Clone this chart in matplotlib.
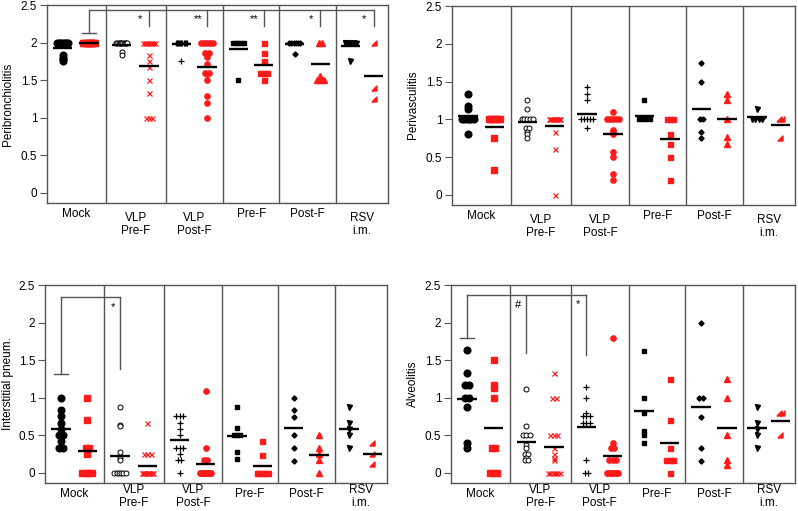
import numpy as np
import matplotlib
matplotlib.use("Agg")
import matplotlib.pyplot as plt
from matplotlib.transforms import blended_transform_factory

plt.rcParams['font.family'] = ['Liberation Sans', 'DejaVu Sans']

# -----------------------------------------------------------
# data (scores per mouse)
# -----------------------------------------------------------
groups = ["Mock", "VLP\nPre-F", "VLP\nPost-F", "Pre-F", "Post-F", "RSV\ni.m."]

# Peribronchiolitis
peri_b_black = [
    [2] * 8 + [1.83, 1.8, 1.78, 1.75],
    [2] * 10 + [1.88, 1.83],
    [2] * 11 + [1.75],
    [2] * 5 + [1.5],
    [2] * 6 + [1.85],
    [2] * 5 + [1.76],
]
peri_b_red = [
    [2] * 12,
    [2] * 8 + [1.83, 1.75, 1.67, 1.5, 1.33, 1, 1, 1],
    [2] * 5 + [1.86, 1.86, 1.81, 1.72, 1.6, 1.6, 1.58, 1.5, 1.29, 1.2, 1.0],
    [2, 1.86, 1.75, 1.6, 1.6, 1.6, 1.5],
    [2, 2, 1.56, 1.5, 1.5, 1.5],
    [2, 1.4, 1.25],
]
peri_b_black_mean = [1.93, 1.97, 1.98, 1.92, 1.98, 1.95]
peri_b_red_mean = [2.0, 1.69, 1.67, 1.70, 1.715, 1.55]

# Perivasculitis
peri_v_black = [
    [1.33, 1.17, 1.13, 1, 1, 1, 1, 1, 1, 0.8],
    [1.25, 1.14, 1, 1, 1, 1, 1, 0.88, 0.88, 0.83, 0.8, 0.75],
    [1.43, 1.33, 1.25, 1, 1, 1, 1, 1, 0.88],
    [1.25, 1, 1, 1, 1],
    [1.75, 1.5, 1.0, 1.0, 0.83, 0.75],
    [1.13, 1, 1, 1, 1],
]
peri_v_red = [
    [1] * 7 + [0.75, 0.33],
    [1] * 10 + [0.83, 0.6, 0.0],
    [1.1] + [1] * 5 + [0.86, 0.83, 0.8, 0.57, 0.5, 0.28, 0.2],
    [1, 1, 1, 0.8, 0.67, 0.5, 0.2],
    [1.33, 1.25, 1.0, 0.77, 0.67],
    [1, 1, 0.75],
]
peri_v_black_mean = [1.05, 0.96, 1.07, 1.04, 1.14, 1.03]
peri_v_red_mean = [0.9, 0.91, 0.81, 0.74, 1.01, 0.92]

# Interstitial pneumonia
inter_black = [
    [1.0, 0.83, 0.75, 0.67, 0.58, 0.5, 0.5, 0.42, 0.33, 0.33],
    [0.87, 0.64, 0.62, 0.28, 0.2, 0.17] + [0] * 6,
    [0.75, 0.75, 0.75, 0.67, 0.58, 0.5, 0.33, 0.33, 0.33, 0.25, 0.17, 0.17, 0],
    [0.88, 0.6, 0.5, 0.5, 0.5, 0.28, 0.19],
    [0.99, 0.83, 0.74, 0.5, 0.33, 0.16],
    [0.87, 0.66, 0.58, 0.5, 0.33],
]
inter_red = [
    [1.0, 0.71, 0.33, 0.33, 0.25, 0, 0, 0, 0],
    [0.66, 0.25, 0.25, 0.25] + [0] * 10,
    [1.09, 0.33, 0.17, 0.17] + [0] * 10,
    [0.43, 0.24] + [0] * 5,
    [0.5, 0.33, 0.25, 0.17, 0],
    [0.4, 0.25, 0.12],
]
inter_black_mean = [0.586, 0.23, 0.44, 0.49, 0.595, 0.58]
inter_red_mean = [0.29, 0.097, 0.12, 0.09, 0.24, 0.25]

# Alveolitis
alv_black = [
    [1.63, 1.33, 1.17, 1.17, 1.0, 1.0, 0.88, 0.4, 0.33],
    [1.12, 0.63, 0.5, 0.5, 0.5, 0.37, 0.33, 0.25, 0.25, 0.2, 0.17, 0.17],
    [1.14, 1.0, 0.8, 0.75, 0.75, 0.75, 0.67, 0.67, 0.67, 0.17, 0, 0],
    [1.62, 1.0, 0.79, 0.56, 0.5, 0.4],
    [2.0, 1.0, 1.0, 0.74, 0.33, 0.16],
    [0.87, 0.66, 0.59, 0.5, 0.33],
]
alv_red = [
    [1.5, 1.17, 1.13, 1.0, 0.33, 0.33, 0, 0, 0],
    [1.33, 1, 1, 0.5, 0.5, 0.5, 0.33, 0.25, 0.2, 0.17] + [0] * 6,
    [1.8, 0.4, 0.33, 0.33, 0.17, 0.17, 0.17] + [0] * 8,
    [1.25, 0.71, 0.33, 0.17, 0.17, 0.17, 0],
    [1.25, 1.0, 0.5, 0.17, 0.11],
    [0.79, 0.79, 0.5],
]
alv_black_mean = [0.98, 0.41, 0.61, 0.82, 0.87, 0.595]
alv_red_mean = [0.60, 0.35, 0.23, 0.40, 0.60, 0.69]

# significance marks
peri_b_marks = ["*", "**", "**", "*", "*"]
alv_marks = ["#", "*"]

# -----------------------------------------------------------
# styles
# -----------------------------------------------------------
RED = "#ff1a1a"
GRAY = "#555555"
EDGES = [0, 1.03, 2.09, 3.10, 4.09, 5.09, 6.0]
RTRI = [(-1, -1), (1, -1), (1, 1), (-1, -1)]

black_style = [
    dict(marker="o", ms=4.8, mfc="black", mec="black"),
    dict(marker="o", ms=3.6, mfc="white", mec="black", mew=0.7),
    dict(marker="+", ms=4.2, mec="black", mew=0.9),
    dict(marker="s", ms=3.3, mfc="black", mec="black"),
    dict(marker="D", ms=2.6, mfc="black", mec="black"),
    dict(marker="v", ms=3.6, mfc="black", mec="black"),
]
red_style = [
    dict(marker="s", ms=4.6, mfc=RED, mec=RED),
    dict(marker="x", ms=3.6, mec=RED, mew=0.9),
    dict(marker="o", ms=3.8, mfc=RED, mec=RED),
    dict(marker="s", ms=3.6, mfc=RED, mec=RED),
    dict(marker="^", ms=3.8, mfc=RED, mec=RED),
    dict(marker=RTRI, ms=3.6, mfc=RED, mec=RED),
]


def positions(i):
    left, right = EDGES[i], EDGES[i + 1]
    w = right - left
    return left + 0.27 * w, left + 0.72 * w


def spread(vals, center, dx=0.06):
    vals = np.asarray(vals, float)
    xs = np.full(len(vals), center)
    for v in np.unique(vals):
        idx = np.where(np.isclose(vals, v))[0]
        n = len(idx)
        if n > 1:
            step = min(dx, 0.2 / (n - 1))
            xs[idx] = center + (np.arange(n) - (n - 1) / 2) * step
    return xs


def draw_panel(ax, black, red, black_mean, red_mean, two_line_y):
    for i in range(len(groups)):
        xb, xr = positions(i)
        ax.plot(spread(black[i], xb), black[i], ls="none", zorder=3, **black_style[i])
        ax.plot(spread(red[i], xr), red[i], ls="none", zorder=3, **red_style[i])
        ax.hlines(black_mean[i], xb - 0.17, xb + 0.17, color="black", lw=1.7, zorder=4)
        ax.hlines(red_mean[i], xr - 0.17, xr + 0.17, color="black", lw=1.7, zorder=4)

    for e in EDGES[1:-1]:
        ax.axvline(e, color=GRAY, lw=1.0, zorder=1)

    ax.set_xlim(0, 6)
    ax.set_ylim(-0.135, 2.5)
    ax.set_yticks([0, 0.5, 1, 1.5, 2, 2.5])
    ax.set_yticklabels(["0", "0.5", "1", "1.5", "2", "2.5"])
    ax.set_xticks([])
    ax.tick_params(axis="y", direction="out", length=5, width=0.8,
                   color=GRAY, labelsize=8.5, pad=2)
    for s in ax.spines.values():
        s.set_color(GRAY)
        s.set_linewidth(1.0)

    tr = blended_transform_factory(ax.transData, ax.transAxes)
    for i, g in enumerate(groups):
        c = (EDGES[i] + EDGES[i + 1]) / 2
        y = two_line_y if "\n" in g else -0.056
        ax.text(c, y, g, transform=tr, ha="center", va="center",
                fontsize=8.5, linespacing=1.1)


def bracket(ax, x0, cap_y, top_y, drops, marks, mark_dx):
    ax.plot([x0, x0], [cap_y, top_y], color=GRAY, lw=1.0)
    ax.plot([x0 - 0.12, x0 + 0.12], [cap_y, cap_y], color=GRAY, lw=1.0)
    ax.plot([x0, drops[-1][0]], [top_y, top_y], color=GRAY, lw=1.0)
    for (xd, yd), m in zip(drops, marks):
        ax.plot([xd, xd], [top_y, yd], color=GRAY, lw=1.0)
        ax.text(xd - mark_dx, top_y - 0.13, m, ha="center", va="center", fontsize=8)


# -----------------------------------------------------------
# figure
# -----------------------------------------------------------
fig = plt.figure(figsize=(7.98, 5.11), dpi=100)
W, H = 798, 511
ax1 = fig.add_axes([47 / W, (H - 203) / H, 341 / W, 198 / H])
ax2 = fig.add_axes([452 / W, (H - 205) / H, 343 / W, 199 / H])
ax3 = fig.add_axes([45 / W, (H - 483) / H, 342 / W, 198 / H])
ax4 = fig.add_axes([451 / W, (H - 483) / H, 344 / W, 198 / H])

draw_panel(ax1, peri_b_black, peri_b_red, peri_b_black_mean, peri_b_red_mean, -0.11)
draw_panel(ax2, peri_v_black, peri_v_red, peri_v_black_mean, peri_v_red_mean, -0.11)
draw_panel(ax3, inter_black, inter_red, inter_black_mean, inter_red_mean, -0.068)
draw_panel(ax4, alv_black, alv_red, alv_black_mean, alv_red_mean, -0.068)

# Peribronchiolitis: Mock (red) vs all other groups (red)
bracket(ax1, positions(0)[1], 2.13, 2.44,
        [(positions(i)[1], 2.22) for i in range(1, 6)], peri_b_marks, 0.16)
# Interstitial pneum.: Mock vs VLP Pre-F (black)
bracket(ax3, positions(0)[0], 1.31, 2.34,
        [(positions(1)[0], 1.38)], ["*"], 0.12)
# Alveolitis: Mock vs VLP Pre-F / VLP Post-F (black)
bracket(ax4, positions(0)[0], 1.79, 2.37,
        [(positions(1)[0], 1.6), (positions(2)[0], 1.57)], alv_marks, 0.15)

fig.text(8 / W, 1 - 104 / H, "Peribronchiolitis", rotation=90, ha="center", va="center", fontsize=8.5)
fig.text(413 / W, 1 - 105 / H, "Perivasculitis", rotation=90, ha="center", va="center", fontsize=8.5)
fig.text(8 / W, 1 - 384 / H, "Interstitial pneum.", rotation=90, ha="center", va="center", fontsize=8.5)
fig.text(413 / W, 1 - 384 / H, "Alveolitis", rotation=90, ha="center", va="center", fontsize=8.5)

fig.savefig("out.png", dpi=100)
